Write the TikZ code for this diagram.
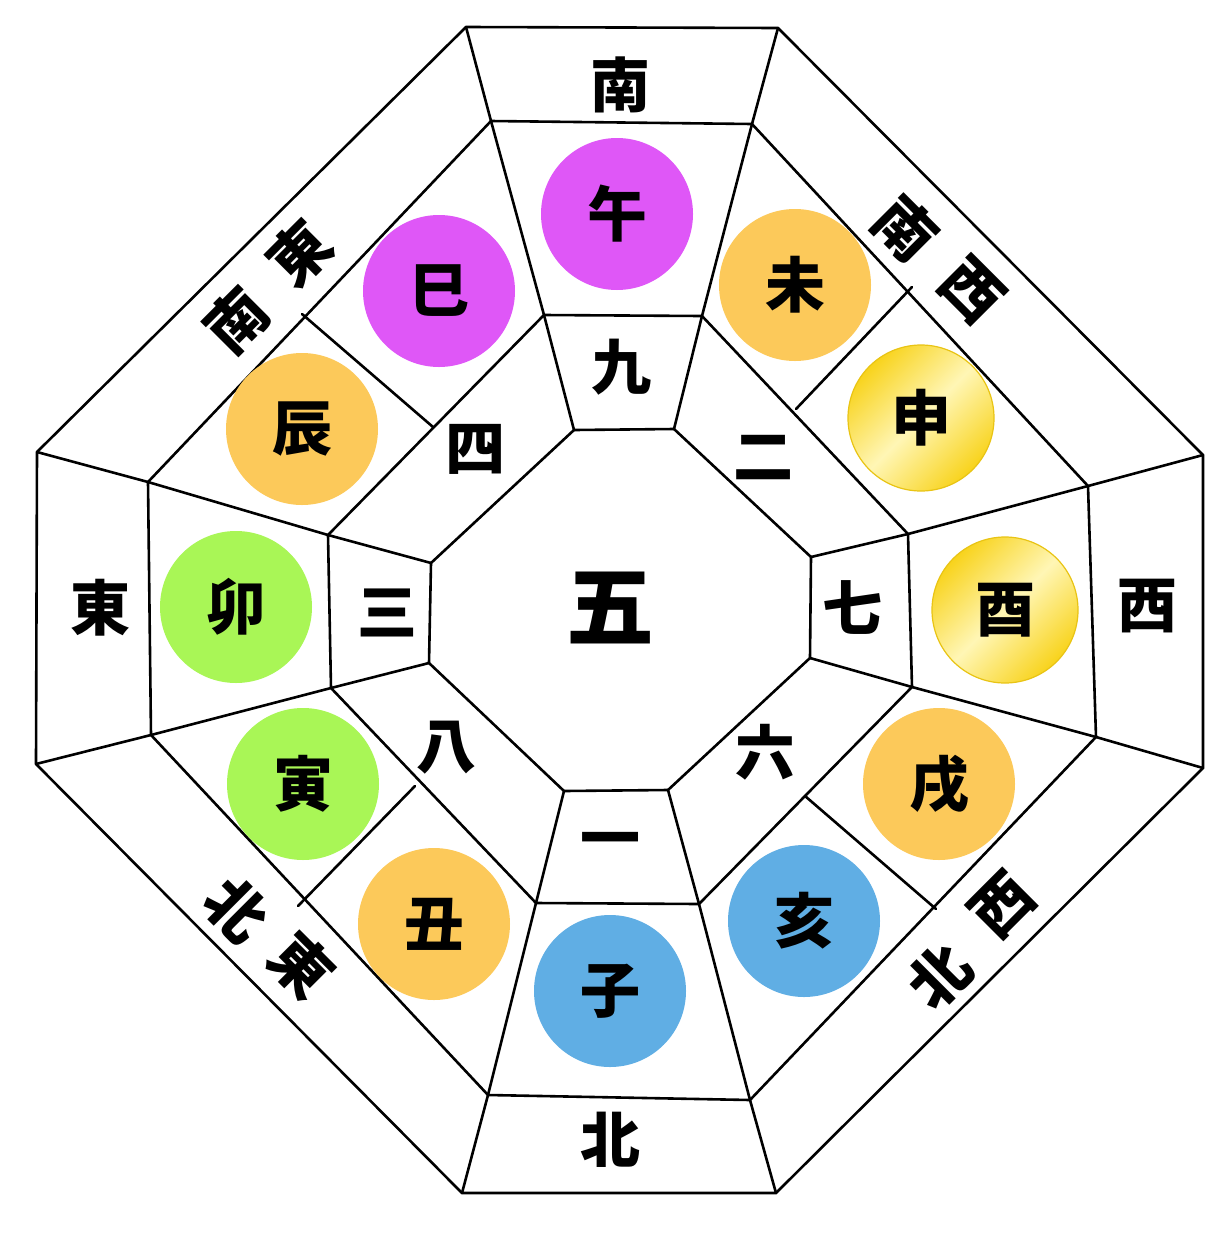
\documentclass[tikz,border=0pt]{standalone}
\usepackage{fontspec}
\newfontfamily\cjk{Noto Sans CJK JP}
\definecolor{cmag}{HTML}{DF57F7}
\definecolor{corg}{HTML}{FCC95A}
\definecolor{cgrn}{HTML}{A9F656}
\definecolor{cblu}{HTML}{60AEE4}
\definecolor{ygold}{HTML}{F8D31C}
\definecolor{ylite}{HTML}{FFF6B5}
\definecolor{yedge}{HTML}{E9C414}
\begin{document}
\begin{tikzpicture}[x=1pt,y=-1pt,
  ln/.style={line width=2.6pt, line join=round, line cap=round},
  zhi/.style={circle, minimum size=152pt, inner sep=0pt, font=\cjk\bfseries\fontsize{60}{60}\selectfont},
  gold/.style={zhi, minimum size=146pt, draw=yedge, line width=1.2pt, top color=ygold, bottom color=ygold, middle color=ylite, shading angle=45},
  lab/.style={inner sep=0pt, font=\cjk\bfseries\fontsize{60}{60}\selectfont},
  big/.style={inner sep=0pt, font=\cjk\bfseries\fontsize{88}{88}\selectfont}]
\fill[white] (0,0) rectangle (1220,1240);
\useasboundingbox (0,0) rectangle (1220,1240);
% outer octagon
\coordinate (O1) at (466,27);  \coordinate (O2) at (778,28);
\coordinate (O3) at (1203,455); \coordinate (O4) at (1203,768);
\coordinate (O5) at (776,1193); \coordinate (O6) at (462,1193);
\coordinate (O7) at (36,764);  \coordinate (O8) at (37,452);
% middle octagon
\coordinate (M1) at (491,121);  \coordinate (M2) at (752,124);
\coordinate (M3) at (1088,486); \coordinate (M4) at (1096,737);
\coordinate (M5) at (750,1100); \coordinate (M6) at (488,1095);
\coordinate (M7) at (151,735);  \coordinate (M8) at (148,482);
% inner octagon
\coordinate (I1) at (544,315); \coordinate (I2) at (702,316);
\coordinate (I3) at (908,534); \coordinate (I4) at (912,687);
\coordinate (I5) at (699,904); \coordinate (I6) at (536,903);
\coordinate (I7) at (331,688); \coordinate (I8) at (328,535);
% centre octagon
\coordinate (C1) at (574,430); \coordinate (C2) at (674,429);
\coordinate (C3) at (811,557); \coordinate (C4) at (810,658);
\coordinate (C5) at (668,790); \coordinate (C6) at (564,791);
\coordinate (C7) at (429,663); \coordinate (C8) at (431,563);
% divider ends
\coordinate (D1a) at (302,314); \coordinate (D1b) at (433,427);
\coordinate (D2a) at (912,287); \coordinate (D2b) at (796,409);
\coordinate (D3a) at (298,906); \coordinate (D3b) at (415,786);
\coordinate (D4a) at (805,796); \coordinate (D4b) at (936,909);

\draw[ln] (O1)--(O2)--(O3)--(O4)--(O5)--(O6)--(O7)--(O8)--cycle;
\draw[ln] (M1)--(M2)--(M3)--(M4)--(M5)--(M6)--(M7)--(M8)--cycle;
\draw[ln] (I1)--(I2)--(I3)--(I4)--(I5)--(I6)--(I7)--(I8)--cycle;
\draw[ln] (C1)--(C2)--(C3)--(C4)--(C5)--(C6)--(C7)--(C8)--cycle;
\foreach \k in {1,...,8}{\draw[ln] (O\k)--(M\k)--(I\k)--(C\k);}
\draw[ln] (D1a)--(D1b);
\draw[ln] (D2a)--(D2b);
\draw[ln] (D3a)--(D3b);
\draw[ln] (D4a)--(D4b);

% branch circles
\node[zhi, fill=cmag] (uma) at (617,214) {午};
\node[zhi, fill=cmag] (mi) at (439,291) {巳};
\node[zhi, fill=corg] (hitsuji) at (795,285) {未};
\node[gold] (saru) at (921,418) {申};
\node[zhi, fill=corg] (tatsu) at (302,429) {辰};
\node[zhi, fill=cgrn] (u) at (236,607) {卯};
\node[gold] (tori) at (1005,610) {酉};
\node[zhi, fill=cgrn] (tora) at (303,784) {寅};
\node[zhi, fill=corg] (inu) at (939,784) {戌};
\node[zhi, fill=corg] (ushi) at (434,924) {丑};
\node[zhi, fill=cblu] (i) at (804,921) {亥};
\node[zhi, fill=cblu] (ne) at (610,991) {子};

% numbers
\node[big] (n5) at (610,608) {五};
\node[lab] (n9) at (621,367) {九};
\node[lab] (n4) at (475,449) {四};
\node[lab] (n2) at (763,458) {二};
\node[lab] (n3) at (387,613) {三};
\node[lab] (n7) at (852,608) {七};
\node[lab] (n8) at (446,748) {八};
\node[lab] (n6) at (765,752) {六};
\node[lab] (n1) at (610,846) {一};

% directions
\node[lab] (s) at (620,85) {南};
\node[lab] (n) at (610,1140) {北};
\node[lab] (e) at (100,608) {東};
\node[lab] (w) at (1147,606) {西};
\node[lab, rotate=45] (se1) at (237,320) {南};
\node[lab, rotate=45] (se2) at (300,253) {東};
\node[lab, rotate=-45] (sw1) at (906,229) {南};
\node[lab, rotate=-45] (sw2) at (972,291) {西};
\node[lab, rotate=-45] (ne1) at (237,910) {北};
\node[lab, rotate=-45] (ne2) at (302,966) {東};
\node[lab, rotate=45] (nw1) at (940,976) {北};
\node[lab, rotate=45] (nw2) at (1003,905) {西};
\end{tikzpicture}
\end{document}
